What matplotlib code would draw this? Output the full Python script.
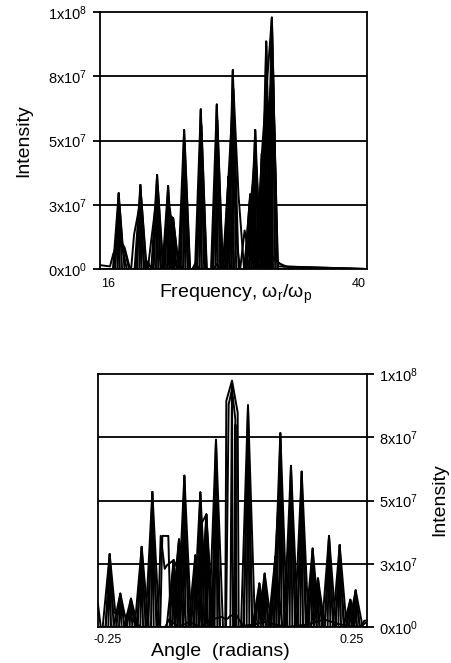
import matplotlib
matplotlib.use('Agg')
import matplotlib.pyplot as plt

plt.rcParams['font.family'] = ['Liberation Sans', 'DejaVu Sans']
plt.rcParams['mathtext.fontset'] = 'custom'
plt.rcParams['mathtext.rm'] = 'Liberation Sans'

# y axis (both panels), intensity in units of 1e7
y_ticks = [0, 2.5, 5, 7.5, 10]
y_tick_labels = [r'$\mathregular{0x10^{0}}$', r'$\mathregular{3x10^{7}}$',
                 r'$\mathregular{5x10^{7}}$', r'$\mathregular{8x10^{7}}$',
                 r'$\mathregular{1x10^{8}}$']

# ---- top panel: intensity vs frequency (wr/wp) ----
# main spectral peaks (centre, height)
freq_peak_x = [17.68, 19.63, 21.13, 22.12, 22.57, 23.56, 25.06, 26.5, 27.55, 27.94, 29.5, 29.95,
               30.55, 30.94, 31.45]
freq_peak_y = [2.95, 3.27, 3.66, 3.23, 1.98, 5.41, 6.21, 6.4, 3.6, 7.74, 2.9, 5.41, 4.5, 8.85,
               9.78]

# other traces
freq_b_x = [16.0, 17.25, 17.75, 18.0, 18.22, 18.7, 18.8, 19.06, 19.7, 20.2, 20.3, 20.62, 21.2,
            21.7, 21.75, 22.0, 22.57, 23.1, 23.15, 23.62, 24.1, 24.6, 25.12, 25.6, 26.05, 26.55,
            27.05, 27.1, 27.55, 28.0, 28.45, 28.95, 29.0, 29.5, 30.0, 30.1, 30.55, 31.0, 31.45,
            31.95, 40.0]
freq_b_y = [0, 0, 2.5, 1.0, 0.82, 0, 0, 1.33, 2.8, 0, 0, 1.17, 3.2, 0, 0, 2.2, 1.98, 0, 0, 4.9,
            0, 0, 5.6, 0, 0, 5.8, 0, 0, 3.6, 7.0, 2.88, 0, 0, 2.9, 0, 0, 4.5, 7.2, 9.78, 0, 0]

freq_c_x = [16.0, 17.3, 17.62, 17.9, 18.3, 18.6, 19.2, 19.58, 20.0, 20.75, 21.08, 21.5, 21.8,
            22.08, 22.3, 22.7, 23.0, 23.2, 23.5, 23.95, 24.7, 25.0, 25.45, 26.15, 26.45, 26.9,
            27.25, 27.6, 27.9, 28.3, 28.6, 29.15, 29.55, 29.95, 30.35, 30.6, 30.9, 31.24, 31.55,
            31.9, 32.5, 40.0]
freq_c_y = [0, 0, 2.0, 1.0, 0.6, 0, 0, 2.4, 0, 0, 2.8, 0, 0, 2.6, 2.3, 0.5, 0, 0, 4.2, 0, 0,
            4.8, 0, 0, 5.0, 0, 0, 2.3, 6.0, 1.0, 0, 0, 2.5, 4.6, 0.5, 0, 5.5, 6.6, 8.0, 0.3, 0.1,
            0]

freq_d_x = [16.0, 16.9, 17.2, 17.6, 18.0, 18.4, 20.0, 20.3, 20.6, 22.6, 23.0, 23.4, 24.3, 24.6,
            24.9, 26.2, 26.5, 26.8, 27.2, 27.5, 27.8, 28.9, 29.2, 29.5, 30.2, 30.5, 30.8, 31.5,
            31.8, 32.2, 33.0, 40.0]
freq_d_y = [0.15, 0.1, 0.6, 1.0, 0.9, 0, 0, 0.3, 0, 0, 0.35, 0, 0, 0.25, 0, 0, 0.2, 0, 0, 0.5,
            0, 0, 0.45, 0, 0, 0.3, 0, 0.5, 0.3, 0.2, 0.05, 0]

freq_e_x = [16.0, 28.6, 29.0, 29.4, 29.7, 30.05, 30.4, 30.7, 31.05, 31.35, 31.6, 32.0, 40.0]
freq_e_y = [0, 0, 1.5, 0.5, 3.0, 4.0, 1.0, 3.5, 6.0, 5.0, 6.5, 0.1, 0]

# ---- bottom panel: intensity vs angle (radians) ----
ang_peak_x = [-0.2283, -0.2085, -0.1887, -0.1688, -0.149, -0.1094, -0.0994, -0.0895, -0.0691,
              -0.0598, -0.0486, -0.0307, 0.0288, 0.0499, 0.0598, 0.0796, 0.0889, 0.1087, 0.1286,
              0.149, 0.1589, 0.1794, 0.1992, 0.219, 0.2289]
ang_peak_y = [2.88, 1.32, 1.12, 3.17, 5.34, 2.64, 3.46, 5.98, 2.83, 5.32, 4.45, 7.4, 8.76, 1.72,
              2.11, 2.77, 7.66, 6.37, 6.14, 3.1, 1.92, 3.6, 3.24, 1.08, 1.45]

# central column and flat-topped lobe
ang_mid_x = [-0.0135, -0.0115, -0.0009, 0.0096, 0.0115]
ang_mid_y = [0, 8.94, 9.74, 8.48, 0]
ang_flat_x = [-0.1345, -0.1304, -0.1193, -0.115]
ang_flat_y = [0, 3.6, 3.6, 0]

ang_c_x = [-0.25, -0.245, -0.236, -0.2275, -0.222, -0.214, -0.2085, -0.203, -0.195, -0.1887,
           -0.182, -0.178, -0.1695, -0.16, -0.158, -0.1495, -0.14, -0.1385, -0.1335, -0.126,
           -0.1215, -0.1094, -0.1044, -0.0994, -0.094, -0.089, -0.08, -0.0785, -0.0691, -0.064,
           -0.0598, -0.0486, -0.038, -0.036, -0.031, -0.024, -0.012, -0.0071, -0.0009, 0.0053,
           0.007, 0.02, 0.0285, 0.037, 0.04, 0.0499, 0.0545, 0.0598, 0.067, 0.07, 0.0796, 0.0889,
           0.098, 0.1, 0.1087, 0.118, 0.12, 0.1286, 0.138, 0.14, 0.149, 0.1545, 0.1589, 0.168,
           0.171, 0.1794, 0.188, 0.191, 0.1992, 0.208, 0.212, 0.219, 0.2235, 0.2289, 0.237, 0.25]
ang_c_y = [0.9, 0, 0, 2.3, 0.6, 0.5, 1.0, 0.5, 0.4, 0.9, 0.3, 0, 2.6, 0, 0, 4.3, 0, 0, 3.6, 2.3,
           2.45, 2.64, 2.4, 3.46, 2.45, 4.8, 0, 0, 2.3, 1.5, 4.0, 4.45, 0, 0, 5.8, 0, 0, 8.8, 9.4,
           8.2, 0, 0, 7.0, 0, 0, 1.5, 0.8, 1.9, 0, 0, 2.77, 6.2, 0, 0, 5.2, 0, 0, 5.0, 0, 0, 2.5,
           1.2, 1.7, 0, 0, 2.9, 0, 0, 2.7, 0, 0, 0.84, 0.4, 1.3, 0, 0.2]

ang_d_x = [-0.25, -0.2, -0.195, -0.188, -0.17, -0.125, -0.118, -0.1, -0.08, -0.06, -0.04, -0.02,
           -0.012, -0.008, -0.004, 0.0, 0.004, 0.008, 0.012, 0.02, 0.04, 0.06, 0.08, 0.1, 0.14,
           0.17, 0.2, 0.24, 0.245, 0.25]
ang_d_y = [0, 0, 0.5, 0.3, 0, 0, 0.3, 0, 0.2, 0, 0.3, 0.4, 0.3, 0.35, 0.45, 0.45, 0.4, 0.45, 0.3,
           0.05, 0.1, 0.2, 0.1, 0, 0.1, 0.3, 0.1, 0, 0.25, 0.25]

ang_e_x = [-0.25, -0.004, -0.001, 0.001, 0.004, 0.0055, 0.007, 0.25]
ang_e_y = [0, 0, 9.6, 0, 0, 8.0, 0, 0]

W, H = 452, 663
fig = plt.figure(figsize=(W / 100, H / 100), dpi=100)


def px(x, y):
    return x / W, 1 - y / H


def draw_panel(ax, peak_x, peak_y, spreads, traces):
    # each peak is drawn as a fan of converging lines (several overlapping traces)
    shapes = []
    for cx, cy in zip(peak_x, peak_y):
        for s in spreads:
            shapes.append(([cx - s, cx, cx + s], [0, cy, 0]))
    shapes += traces
    # white under each trace hides the grid, then all outlines on top
    for tx, ty in shapes:
        ax.fill_between(tx, ty, 0, color='white', zorder=2, lw=0)
    for tx, ty in shapes:
        ax.plot(tx, ty, color='black', lw=1.4, zorder=3)


def style(ax, side):
    ax.set_ylim(0, 10)
    ax.set_yticks(y_ticks)
    for yv in y_ticks[1:-1]:
        ax.axhline(yv, color='black', lw=1.3, zorder=1)
    for s in ax.spines.values():
        s.set_linewidth(1.3)
        s.set_zorder(4)
    ax.set_xticks([])
    if side == 'right':
        ax.yaxis.tick_right()
    ax.set_yticklabels(y_tick_labels, fontsize=10.5)
    ax.tick_params(axis='y', direction='out', length=5, width=1.3, pad=4)


# top panel
ax1 = fig.add_axes([100 / W, 1 - 269 / H, 267 / W, 257 / H])
draw_panel(ax1, freq_peak_x, freq_peak_y, [0.52, 0.3, 0.1],
           [(freq_b_x, freq_b_y), (freq_c_x, freq_c_y), (freq_d_x, freq_d_y),
            (freq_e_x, freq_e_y)])
ax1.set_xlim(16, 40)
style(ax1, 'left')
fig.text(*px(101, 284), '16', fontsize=9, ha='left', va='center')
fig.text(*px(366, 284), '40', fontsize=9, ha='right', va='center')
fig.text(*px(236, 294), r'Frequency, $\mathregular{\omega_{r}/\omega_{p}}$', fontsize=14,
         ha='center', va='center')
fig.text(*px(24, 141), 'Intensity', fontsize=14, rotation=90, ha='center', va='center')

# bottom panel
ax2 = fig.add_axes([98 / W, 1 - 627 / H, 269 / W, 253 / H])
draw_panel(ax2, ang_peak_x, ang_peak_y, [0.013, 0.0075, 0.0025],
           [(ang_mid_x, ang_mid_y), (ang_flat_x, ang_flat_y), (ang_c_x, ang_c_y),
            (ang_d_x, ang_d_y), (ang_e_x, ang_e_y)])
ax2.set_xlim(-0.25, 0.25)
style(ax2, 'right')
fig.text(*px(94, 640), '-0.25', fontsize=9, ha='left', va='center')
fig.text(*px(364, 640), '0.25', fontsize=9, ha='right', va='center')
fig.text(*px(220, 651), 'Angle  (radians)', fontsize=14, ha='center', va='center')
fig.text(*px(440, 500), 'Intensity', fontsize=14, rotation=90, ha='center', va='center')

fig.savefig('out.png', dpi=100)
